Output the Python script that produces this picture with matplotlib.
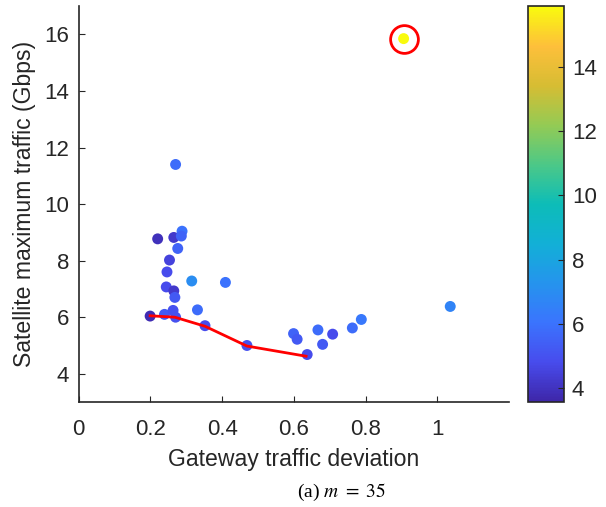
import numpy as np
import matplotlib
matplotlib.use("Agg")
import matplotlib.pyplot as plt
from matplotlib.colors import LinearSegmentedColormap

plt.rcParams["font.family"] = ["Liberation Sans", "DejaVu Sans"]
plt.rcParams["mathtext.fontset"] = "stix"

# gateway traffic deviation, satellite max traffic, colour value
gw_dev = [0.906, 0.270, 0.220, 0.265, 0.288, 0.286, 0.276, 0.253, 0.246, 0.315,
          0.409, 0.244, 0.265, 0.268, 0.331, 0.199, 0.239, 0.263, 0.270, 0.352,
          0.469, 0.599, 0.609, 0.667, 0.680, 0.708, 0.637, 0.763, 0.788, 1.036]
sat_max = [15.85, 11.40, 8.77, 8.82, 9.04, 8.87, 8.43, 8.02, 7.60, 7.28,
           7.23, 7.07, 6.93, 6.70, 6.26, 6.04, 6.10, 6.24, 6.00, 5.70,
           5.00, 5.42, 5.22, 5.55, 5.04, 5.40, 4.68, 5.62, 5.92, 6.38]
color_val = [15.9, 5.8, 3.9, 4.2, 6.0, 5.5, 5.5, 4.5, 4.8, 7.0,
             6.0, 4.8, 4.2, 5.2, 5.8, 3.8, 5.2, 5.0, 5.0, 4.8,
             5.0, 5.5, 5.2, 5.8, 5.2, 4.8, 4.8, 5.8, 6.2, 6.6]

# pareto front (red line)
front_x = [0.199, 0.268, 0.352, 0.469, 0.634]
front_y = [6.05, 6.00, 5.68, 4.98, 4.62]

# highlighted point
best_x, best_y = 0.906, 15.85

parula_pts = [
    (0.2422, 0.1504, 0.6603), (0.2810, 0.2970, 0.9300), (0.2290, 0.4550, 0.9950),
    (0.1450, 0.5800, 0.9300), (0.0700, 0.6900, 0.8400), (0.0500, 0.7400, 0.7200),
    (0.3000, 0.7850, 0.5300), (0.5800, 0.7950, 0.3300), (0.8400, 0.7400, 0.2000),
    (0.9950, 0.7500, 0.2300), (0.9763, 0.9831, 0.0538),
]
parula = LinearSegmentedColormap.from_list("parula", parula_pts)

fig = plt.figure(figsize=(6.06, 5.07), dpi=100)
ax = fig.add_axes([0.130, 0.207, 0.710, 0.781])
cax = fig.add_axes([0.871, 0.207, 0.059, 0.781])

sc = ax.scatter(gw_dev, sat_max, c=color_val, cmap=parula, vmin=3.56, vmax=15.9,
                s=62, edgecolors="none", zorder=2)
ax.plot(front_x, front_y, color="red", lw=2, zorder=3)
ax.plot([best_x], [best_y], "o", ms=20, mfc="none", mec="red", mew=2, zorder=4)

ax.set_xlim(0, 1.2)
ax.set_ylim(3, 17)
ax.set_xticks([0, 0.2, 0.4, 0.6, 0.8, 1])
ax.set_xticklabels(["0", "0.2", "0.4", "0.6", "0.8", "1"])
ax.set_yticks([4, 6, 8, 10, 12, 14, 16])
for s in ["top", "right"]:
    ax.spines[s].set_visible(False)
for s in ["left", "bottom"]:
    ax.spines[s].set_color("#262626")
    ax.spines[s].set_linewidth(1.2)
ax.tick_params(direction="in", length=4, labelsize=16, colors="#262626")
ax.tick_params(axis="x", pad=12)
ax.tick_params(axis="y", pad=7)
ax.set_xlabel("Gateway traffic deviation", fontsize=16.6, color="#262626", labelpad=6)
ax.set_ylabel("Satellite maximum traffic (Gbps)", fontsize=16.6, color="#262626", labelpad=6)

cb = fig.colorbar(sc, cax=cax)
cb.set_ticks([4, 6, 8, 10, 12, 14])
cb.outline.set_linewidth(1.2)
cb.outline.set_edgecolor("#262626")
cax.tick_params(direction="in", length=4, labelsize=16, colors="#262626", pad=6)

fig.text(0.563, 0.020, "(a) $m\\ =\\ 35$", ha="center", va="baseline",
         fontsize=14, family="Liberation Serif")

fig.savefig("out.png", dpi=100)
